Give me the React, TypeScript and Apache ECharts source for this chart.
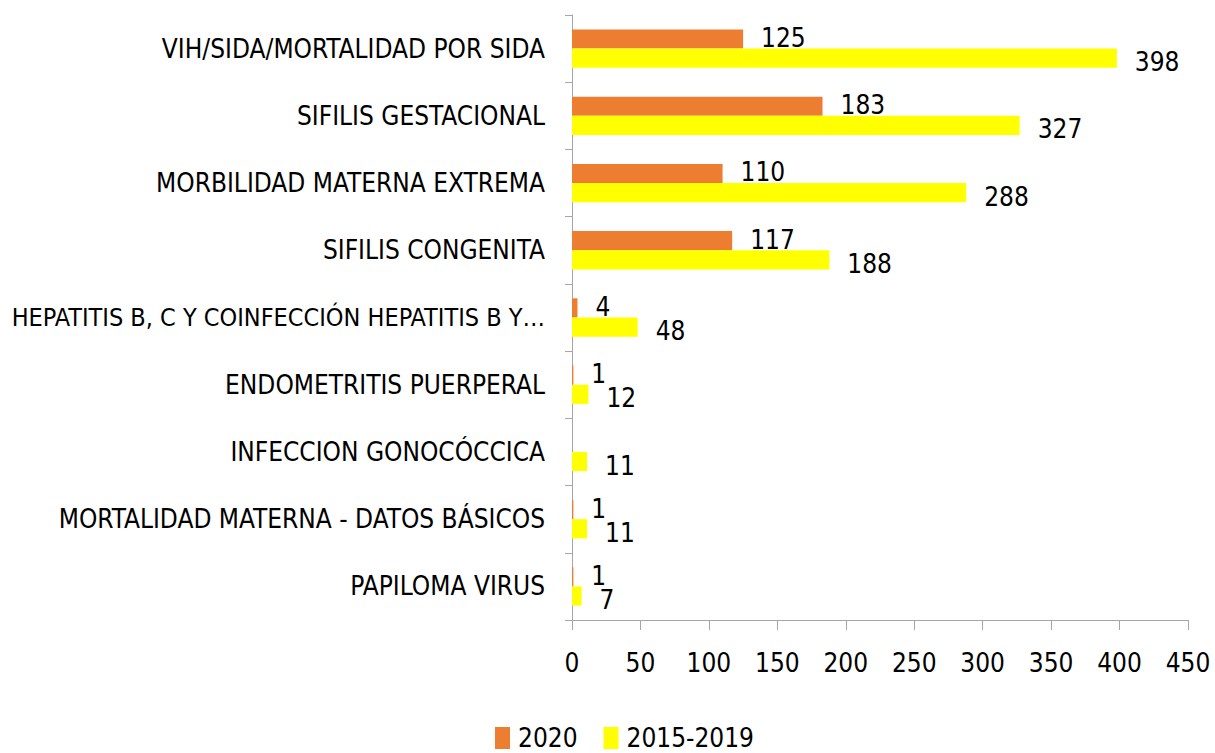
import React, { useEffect, useRef } from "react";
import * as echarts from "echarts";

const categories = [
  "VIH/SIDA/MORTALIDAD POR SIDA",
  "SIFILIS GESTACIONAL",
  "MORBILIDAD MATERNA EXTREMA",
  "SIFILIS CONGENITA",
  "HEPATITIS B, C Y COINFECCIÓN HEPATITIS B Y…",
  "ENDOMETRITIS PUERPERAL",
  "INFECCION GONOCÓCCICA",
  "MORTALIDAD MATERNA - DATOS BÁSICOS",
  "PAPILOMA VIRUS",
];
const values2020: (number | null)[] = [125, 183, 110, 117, 4, 1, null, 1, 1];
const values2015_2019 = [398, 327, 288, 188, 48, 12, 11, 11, 7];
const seriesNames = ["2020", "2015-2019"];

const FONT = "'DejaVu Sans Condensed', 'Liberation Sans Narrow', sans-serif";

export default function App() {
  const ref = useRef<HTMLDivElement>(null);
  useEffect(() => {
    document.body.style.margin = "0";
    if (!ref.current) return;
    const chart = echarts.init(ref.current, undefined, { renderer: "svg" });
    const label = {
      show: true,
      position: "right" as const,
      distance: 18,
      color: "#000",
      fontSize: 26,
      fontFamily: FONT,
    };
    chart.setOption({
      animation: false,
      textStyle: { fontFamily: FONT },
      legend: {
        top: 725,
        left: 495,
        padding: 0,
        itemWidth: 15,
        itemHeight: 22,
        itemGap: 26,
        icon: "rect",
        textStyle: { fontSize: 26, color: "#000", fontFamily: FONT, padding: [0, 0, 0, 3] },
        data: seriesNames,
      },
      grid: {
        left: 572,
        right: 27,
        top: 15,
        bottom: 133,
        containLabel: false,
        outerBoundsMode: "none",
      },
      xAxis: {
        type: "value",
        min: 0,
        max: 450,
        interval: 50,
        splitLine: { show: false },
        axisLine: { show: true, lineStyle: { color: "#A6A6A6" } },
        axisTick: { show: true, length: 10, lineStyle: { color: "#A6A6A6" } },
        axisLabel: { fontSize: 26, color: "#000", margin: 30, fontFamily: FONT },
      },
      yAxis: {
        type: "category",
        inverse: true,
        data: categories,
        axisLine: { lineStyle: { color: "#A6A6A6" } },
        axisTick: { show: true, length: 7, lineStyle: { color: "#A6A6A6" } },
        axisLabel: {
          fontSize: 26,
          color: "#000",
          margin: 27,
          fontFamily: FONT,
          formatter: (v: string) => (v.length > 36 ? `{s|${v}}` : `{n|${v}}`),
          rich: {
            n: { fontSize: 26, color: "#000", fontFamily: FONT },
            s: { fontSize: 25, color: "#000", fontFamily: FONT },
          },
        },
      },
      series: [
        {
          name: seriesNames[0],
          type: "bar",
          data: values2020,
          barGap: "0%",
          barCategoryGap: "43%",
          itemStyle: { color: "#ED7D31" },
          label: { ...label, offset: [0, -1] },
        },
        {
          name: seriesNames[1],
          type: "bar",
          data: values2015_2019,
          itemStyle: { color: "#FFFF00" },
          label: { ...label, offset: [0, 4] },
        },
      ],
    });
    return () => chart.dispose();
  }, []);
  return <div ref={ref} style={{ width: 1215, height: 753 }} />;
}
